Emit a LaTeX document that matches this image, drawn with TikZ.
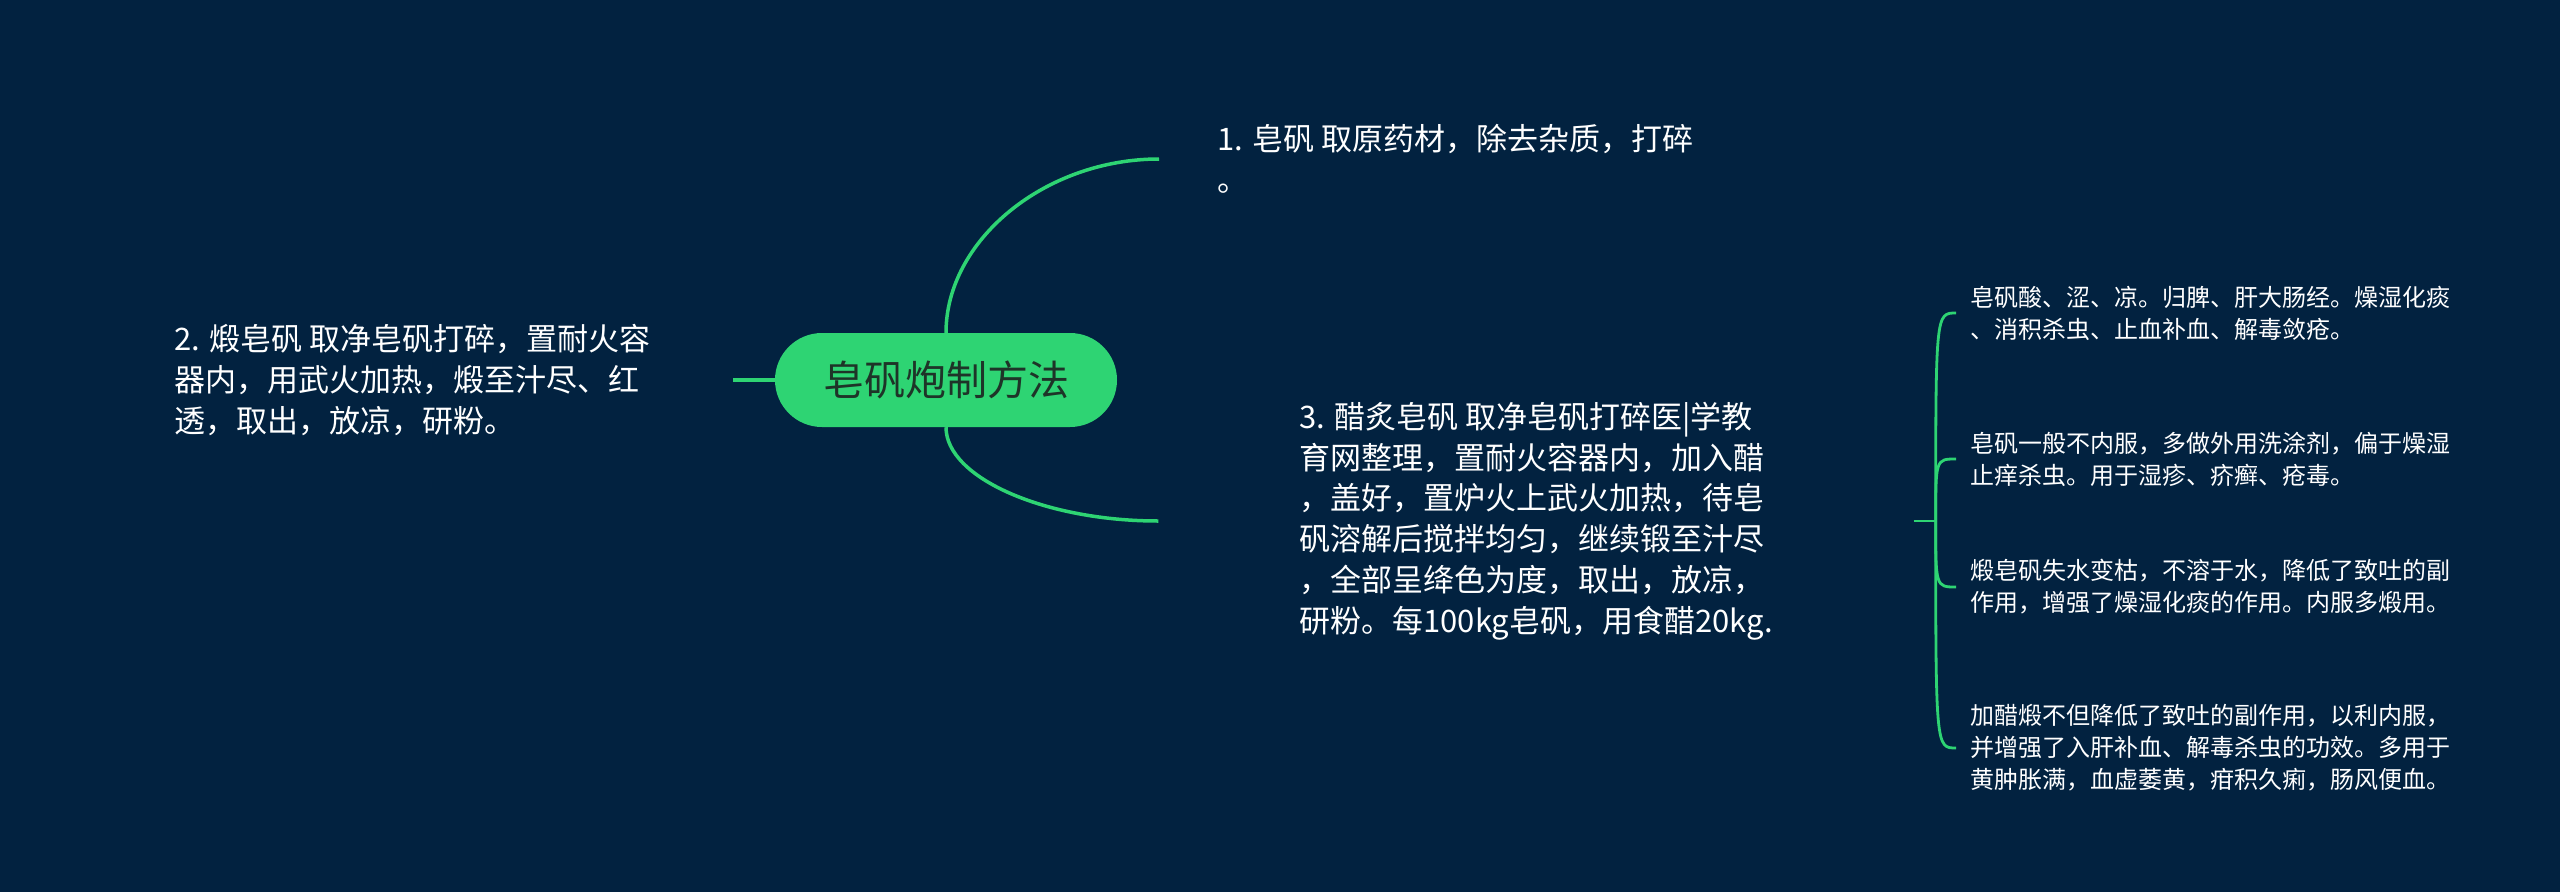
\documentclass[tikz,border=0pt]{standalone}
\usepackage{fontspec}
\setmainfont{Noto Sans CJK SC}
\definecolor{bg}{RGB}{2,34,64}
\definecolor{grn}{RGB}{46,212,115}
\definecolor{roottxt}{RGB}{30,52,40}
\begin{document}
\begin{tikzpicture}[x=1pt,y=-1pt,
  branch/.style={draw=grn, line width=3.5pt},
  sub/.style={draw=grn, line width=2.8pt},
  rootbox/.style={fill=grn, rounded corners=47pt, minimum width=342pt, minimum height=94pt, inner sep=0pt, text=roottxt, font=\fontsize{41}{48}\selectfont},
  big/.style={text=white, align=left, inner ysep=0pt, font=\fontsize{31}{40.8}\selectfont},
  small/.style={text=white, align=left, inner ysep=0pt, inner xsep=14pt, anchor=west, font=\fontsize{24}{32}\selectfont}]
\fill[bg] (0,0) rectangle (2560,892);
\useasboundingbox (0,0) rectangle (2560,892);

\node[rootbox] (root) at (946,380) {皂矾炮制方法};

\node[big, anchor=west, inner xsep=58pt] (n1) at (1159,159) {1. 皂矾 取原药材，除去杂质，打碎\\。};
\node[big, anchor=east, inner xsep=82pt] (n2) at (733,380) {2. 煅皂矾 取净皂矾打碎，置耐火容\\器内，用武火加热，煅至汁尽、红\\透，取出，放凉，研粉。};
\node[big, minimum width=755pt, inner xsep=0pt] (n3) at (1536,521) {3. 醋炙皂矾 取净皂矾打碎医|学教\\育网整理，置耐火容器内，加入醋\\，盖好，置炉火上武火加热，待皂\\矾溶解后搅拌均匀，继续锻至汁尽\\，全部呈绛色为度，取出，放凉，\\研粉。每100kg皂矾，用食醋20kg.};

\node[small] (c1) at (1956,313) {皂矾酸、涩、凉。归脾、肝大肠经。燥湿化痰\\、消积杀虫、止血补血、解毒敛疮。};
\node[small] (c2) at (1956,459) {皂矾一般不内服，多做外用洗涂剂，偏于燥湿\\止痒杀虫。用于湿疹、疥癣、疮毒。};
\node[small] (c3) at (1956,587) {煅皂矾失水变枯，不溶于水，降低了致吐的副\\作用，增强了燥湿化痰的作用。内服多煅用。};
\node[small] (c4) at (1956,748) {加醋煅不但降低了致吐的副作用，以利内服，\\并增强了入肝补血、解毒杀虫的功效。多用于\\黄肿胀满，血虚萎黄，疳积久痢，肠风便血。};

\draw[branch] (root.north) .. controls (946,240) and (1045,159) .. (n1.west);
\draw[branch] (root.south) .. controls (946,478) and (1045,521) .. (n3.west);
\draw[branch] (root.west) -- (n2.east);

\draw[sub] (n3.east) -- ++(22,0) coordinate (br);
\draw[sub] (br) .. controls (br |- c1.west) .. (c1.west);
\draw[sub] (br) .. controls (br |- c2.west) .. (c2.west);
\draw[sub] (br) .. controls (br |- c3.west) .. (c3.west);
\draw[sub] (br) .. controls (br |- c4.west) .. (c4.west);
\end{tikzpicture}
\end{document}
